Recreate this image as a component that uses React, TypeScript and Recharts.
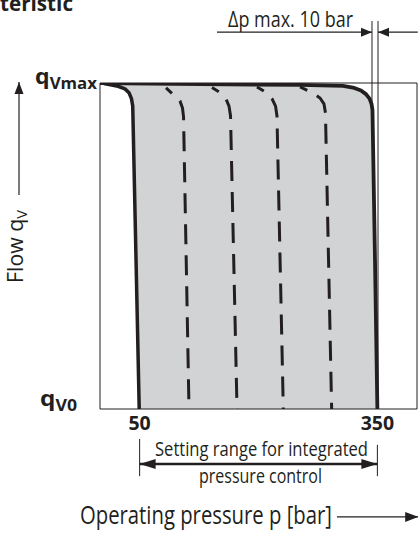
import React from 'react';
import { ComposedChart, Area, Line, XAxis, YAxis, ReferenceArea, ReferenceLine } from 'recharts';

// pressure p [bar] / relative flow q (0 = qV0, 1 = qVmax)
const pressureTicks = [50, 350];
const flowTicks = [0, 1];
const flowTickLabels: Record<number, string> = { 0: 'V0', 1: 'Vmax' };

// outer solid curve: top edge from qVmax, round corner, down at 350 bar
const outerCurve = [
  { p: 0, q: 1 },
  { p: 126, q: 0.997 },
  { p: 252, q: 0.994 },
  { p: 306.6, q: 0.991 },
  { p: 319.2, q: 0.986 },
  { p: 329.3, q: 0.977 },
  { p: 335.6, q: 0.966 },
  { p: 340.1, q: 0.952 },
  { p: 342.6, q: 0.936 },
  { p: 343.8, q: 0.917 },
  { p: 347, q: 0.457 },
  { p: 350, q: 0 },
];

// lowest setting, down at 50 bar
const lowCurve = [
  { p: 5, q: 0.998 },
  { p: 22.7, q: 0.99 },
  { p: 31.5, q: 0.982 },
  { p: 36.6, q: 0.97 },
  { p: 39.7, q: 0.952 },
  { p: 41.3, q: 0.929 },
  { p: 49.5, q: 0 },
];

// intermediate settings (dashed)
const setting1 = [
  { p: 83.3, q: 0.985 },
  { p: 94.6, q: 0.96 },
  { p: 100.9, q: 0.945 },
  { p: 104.1, q: 0.923 },
  { p: 105.4, q: 0.896 },
  { p: 112.3, q: 0 },
];
const setting2 = [
  { p: 141.3, q: 0.986 },
  { p: 152.7, q: 0.969 },
  { p: 159, q: 0.951 },
  { p: 162.8, q: 0.929 },
  { p: 164.7, q: 0.899 },
  { p: 172.9, q: 0 },
];
const setting3 = [
  { p: 198.1, q: 0.988 },
  { p: 209.5, q: 0.971 },
  { p: 217, q: 0.952 },
  { p: 221.5, q: 0.929 },
  { p: 223.3, q: 0.899 },
  { p: 231.3, q: 0 },
];
const setting4 = [
  { p: 252.4, q: 0.988 },
  { p: 267.5, q: 0.971 },
  { p: 277.6, q: 0.954 },
  { p: 282.6, q: 0.936 },
  { p: 284.5, q: 0.908 },
  { p: 292.3, q: 0 },
];
const dashedSettings = [setting1, setting2, setting3, setting4];

// shaded region between lowest setting and outer curve
const regionData = [...lowCurve].reverse().concat(outerCurve.filter((pt) => pt.p > 30));

const INK = '#231f20';
const FONT = "'Open Sans', sans-serif";

const Arrow = (props: any) => {
  const { x1, y1, x2, y2, both, len = 11, half = 4.5, children } = props;
  const dx = x2 - x1;
  const dy = y2 - y1;
  const d = Math.sqrt(dx * dx + dy * dy) || 1;
  const ux = dx / d;
  const uy = dy / d;
  const head = (tx: number, ty: number, sx: number, sy: number) =>
    `${tx},${ty} ${tx - sx * len - sy * half},${ty - sy * len + sx * half} ${tx - sx * len + sy * half},${ty - sy * len - sx * half}`;
  return (
    <g>
      <line x1={x1} y1={y1} x2={x2} y2={y2} stroke={INK} strokeWidth={props.lw || 1.2} />
      <polygon points={head(x2, y2, ux, uy)} fill={INK} />
      {both && <polygon points={head(x1, y1, -ux, -uy)} fill={INK} />}
      {children}
    </g>
  );
};

const PressureTick = (props: any) => {
  const { x, y, payload } = props;
  return (
    <text x={x} y={y + 21} textAnchor="middle" fontFamily={FONT} fontWeight={700} fontSize={19.5} fill={INK}>
      {payload.value}
    </text>
  );
};

const flowTickOffset: Record<number, { dx: number; dy: number; w: number }> = {
  0: { dx: -60, dy: -3, w: 37 },
  1: { dx: -65, dy: 1, w: 62 },
};

const FlowTick = (props: any) => {
  const { x, y, payload } = props;
  const off = flowTickOffset[payload.value];
  return (
    <text
      x={x + off.dx}
      y={y + off.dy}
      textAnchor="start"
      fontFamily={FONT}
      fontWeight={700}
      fill={INK}
      textLength={off.w}
      lengthAdjust="spacingAndGlyphs"
    >
      <tspan fontSize={22}>q</tspan>
      <tspan fontSize={16} dy={5}>
        {flowTickLabels[payload.value]}
      </tspan>
    </text>
  );
};

const FlowAxisLabel = (props: any) => {
  const vb = props.viewBox || { x: 0, y: 83, width: 100, height: 326 };
  const ax = vb.x + 19;
  return (
    <g>
      <Arrow x1={ax} y1={vb.y + 112} x2={ax} y2={vb.y - 1} len={12} half={4.5} />
      <text
        transform={`translate(${vb.x + 23},${vb.y + 200}) rotate(-90)`}
        fontFamily={FONT}
        fontSize={22}
        fill={INK}
        textLength={73}
        lengthAdjust="spacingAndGlyphs"
      >
        Flow q<tspan fontSize={15} dy={4}>V</tspan>
      </text>
    </g>
  );
};

export default function App() {
  return (
    <div style={{ position: 'absolute', left: 0, top: 0, background: '#fff' }}>
      <ComposedChart width={418} height={533} margin={{ top: 83, right: 1, bottom: 94, left: 0 }}>
        <XAxis
          type="number"
          dataKey="p"
          domain={[0, 400]}
          ticks={pressureTicks}
          axisLine={false}
          tickLine={false}
          tickSize={0}
          tickMargin={0}
          height={30}
          tick={<PressureTick />}
          allowDataOverflow
        />
        <YAxis
          type="number"
          dataKey="q"
          domain={[0, 1]}
          ticks={flowTicks}
          axisLine={false}
          tickLine={false}
          tickSize={0}
          tickMargin={0}
          width={100}
          tick={<FlowTick />}
          label={{ content: FlowAxisLabel }}
          allowDataOverflow
        />
        <Area
          data={regionData}
          dataKey="q"
          type="linear"
          fill="#d1d3d4"
          fillOpacity={1}
          stroke="none"
          isAnimationActive={false}
        />
        <ReferenceArea x1={0} x2={400} y1={0} y2={1} fill="none" stroke={INK} strokeWidth={1} fillOpacity={0} />
        {dashedSettings.map((s, i) => (
          <Line
            key={i}
            data={s}
            dataKey="q"
            type="linear"
            stroke={INK}
            strokeWidth={3}
            strokeDasharray="20 11"
            strokeDashoffset={12}
            dot={false}
            isAnimationActive={false}
          />
        ))}
        <Line data={lowCurve} dataKey="q" type="linear" stroke={INK} strokeWidth={3.5} strokeLinejoin="round" dot={false} isAnimationActive={false} />
        <Line data={outerCurve} dataKey="q" type="linear" stroke={INK} strokeWidth={3.8} strokeLinejoin="round" dot={false} isAnimationActive={false} />

        {/* delta p annotation */}
        <ReferenceLine segment={[{ x: 343.2, y: 0.93 }, { x: 343.2, y: 1.19 }]} stroke={INK} strokeWidth={1} ifOverflow="visible" />
        <ReferenceLine segment={[{ x: 350.8, y: 0 }, { x: 350.8, y: 1.19 }]} stroke={INK} strokeWidth={1} ifOverflow="visible" />
        <ReferenceLine
          segment={[{ x: 147.6, y: 1.156 }, { x: 343.2, y: 1.156 }]}
          ifOverflow="visible"
          shape={(pr: any) => (
            <Arrow {...pr} len={11} half={4.5}>
              <text x={pr.x2 - 19} y={pr.y1 - 5} textAnchor="end" fontFamily={FONT} fontSize={21} fill={INK} textLength={125} lengthAdjust="spacingAndGlyphs">
                Δp max. 10 bar
              </text>
            </Arrow>
          )}
        />
        <ReferenceLine
          segment={[{ x: 401, y: 1.156 }, { x: 350.8, y: 1.156 }]}
          ifOverflow="visible"
          shape={(pr: any) => <Arrow {...pr} len={11} half={4.5} />}
        />

        {/* setting range */}
        <ReferenceLine segment={[{ x: 50, y: -0.092 }, { x: 50, y: -0.206 }]} stroke={INK} strokeWidth={1} ifOverflow="visible" />
        <ReferenceLine segment={[{ x: 350, y: -0.11 }, { x: 350, y: -0.206 }]} stroke={INK} strokeWidth={1} ifOverflow="visible" />
        <ReferenceLine
          segment={[{ x: 50, y: -0.169 }, { x: 350, y: -0.169 }]}
          ifOverflow="visible"
          shape={(pr: any) => {
            const mid = (pr.x1 + pr.x2) / 2;
            return (
              <Arrow {...pr} both len={16} half={5} lw={2.5}>
                <text x={mid + 3} y={pr.y1 - 8} textAnchor="middle" fontFamily={FONT} fontSize={20} fill={INK} textLength={213} lengthAdjust="spacingAndGlyphs">
                  Setting range for integrated
                </text>
                <text x={mid + 2} y={pr.y1 + 19} textAnchor="middle" fontFamily={FONT} fontSize={20} fill={INK} textLength={123} lengthAdjust="spacingAndGlyphs">
                  pressure control
                </text>
              </Arrow>
            );
          }}
        />

        {/* x-axis title */}
        <ReferenceLine
          segment={[{ x: 299, y: -0.331 }, { x: 401.5, y: -0.331 }]}
          ifOverflow="visible"
          shape={(pr: any) => (
            <Arrow {...pr} len={13} half={5}>
              <text x={pr.x1 - 5} y={pr.y1 + 7} textAnchor="end" fontFamily={FONT} fontSize={25} fill={INK} textLength={252} lengthAdjust="spacingAndGlyphs">
                Operating pressure p [bar]
              </text>
            </Arrow>
          )}
        />
      </ComposedChart>
      <svg width={418} height={20} style={{ position: 'absolute', left: 0, top: 0 }}>
        <text x={0} y={11} fontFamily={FONT} fontWeight={700} fontSize={22} fill={INK} textLength={73} lengthAdjust="spacingAndGlyphs">
          teristic
        </text>
      </svg>
    </div>
  );
}
